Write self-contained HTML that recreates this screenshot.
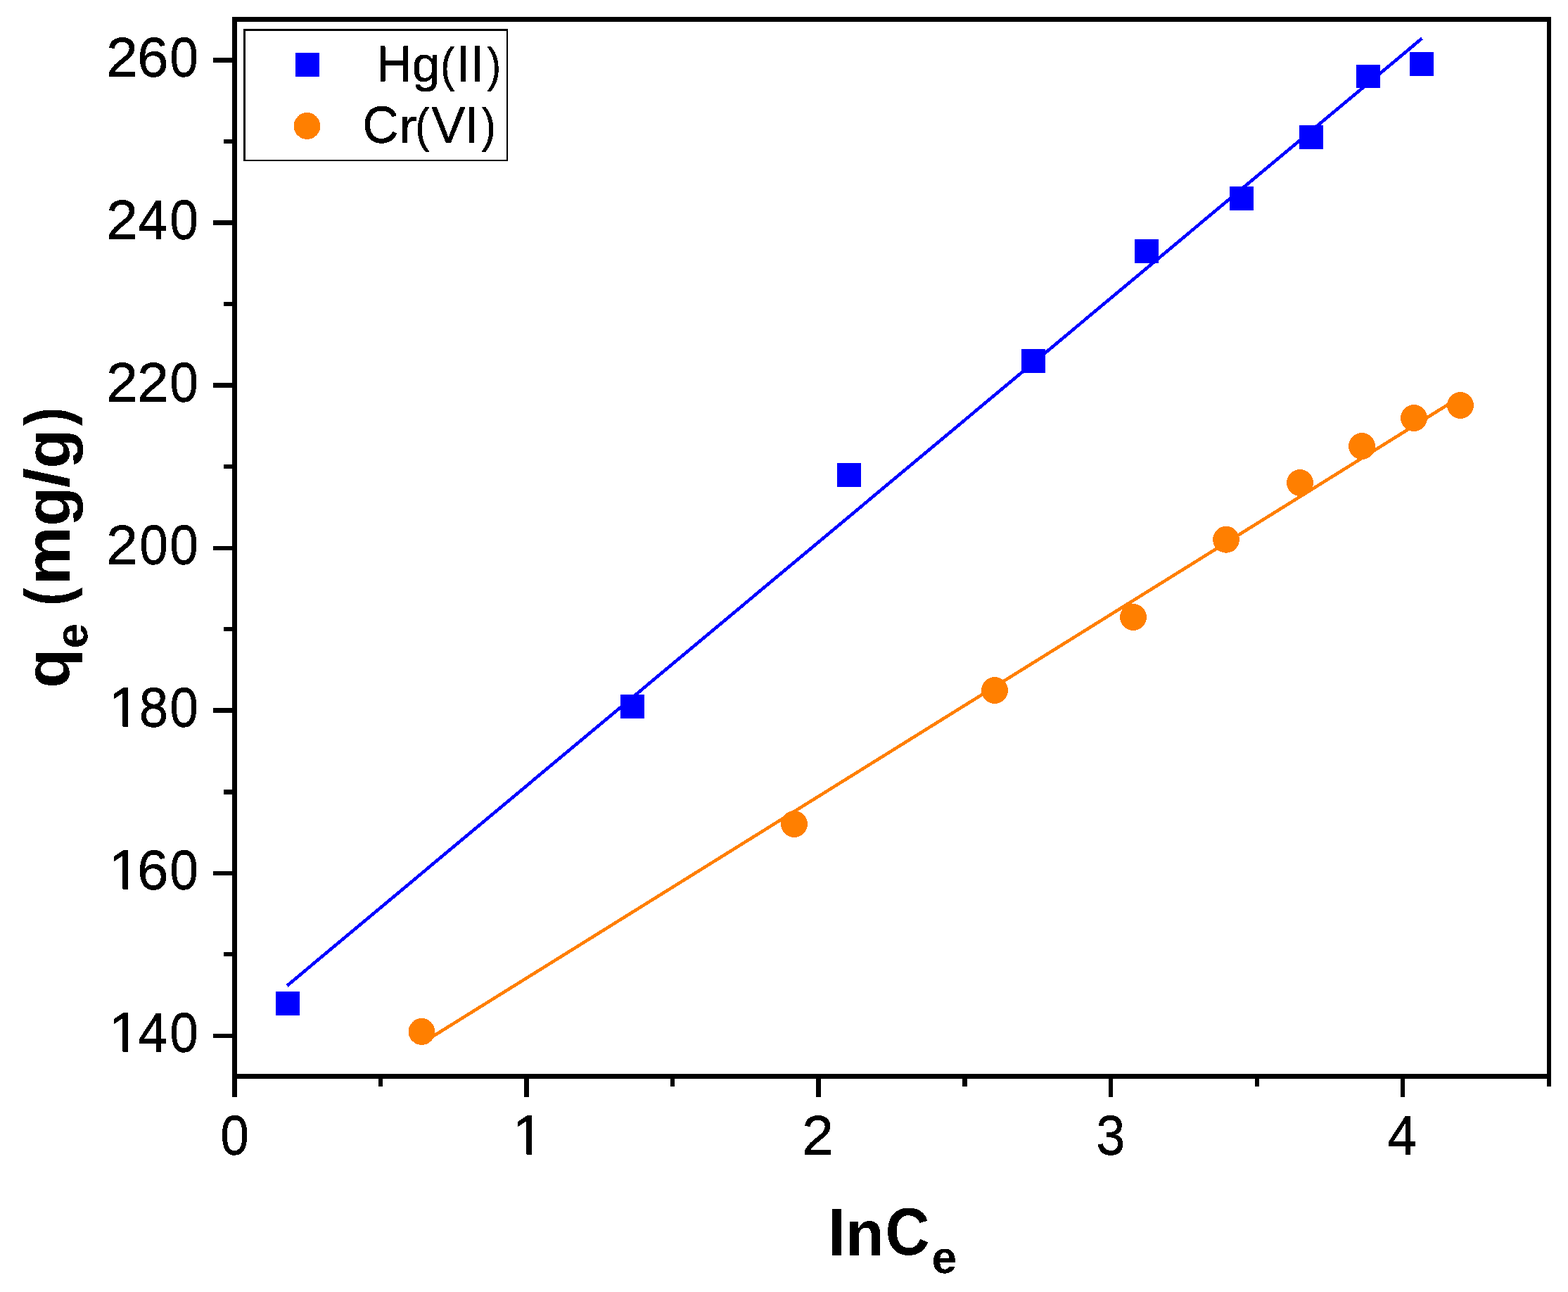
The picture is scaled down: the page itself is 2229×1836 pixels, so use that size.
<!DOCTYPE html>
<html lang="en">
<head>
<meta charset="utf-8">
<title>qe vs lnCe</title>
<style>
html,body{margin:0;padding:0;background:#ffffff;}
body{width:2229px;height:1836px;overflow:hidden;}
svg{display:block;}
</style>
</head>
<body>
<svg width="2229" height="1836" viewBox="0 0 2229 1836">
<rect x="0" y="0" width="2229" height="1836" fill="#ffffff"/>
<defs><filter id="bin" filterUnits="userSpaceOnUse" x="0" y="0" width="2229" height="1836" color-interpolation-filters="sRGB"><feComponentTransfer><feFuncA type="discrete" tableValues="0 1"/></feComponentTransfer></filter><filter id="binv" filterUnits="userSpaceOnUse" x="0" y="0" width="2229" height="1836" color-interpolation-filters="sRGB"><feOffset in="SourceGraphic" dy="1" result="o"/><feMerge result="m"><feMergeNode in="SourceGraphic"/><feMergeNode in="o"/></feMerge><feComponentTransfer in="m"><feFuncA type="discrete" tableValues="0 1"/></feComponentTransfer></filter></defs>
<g fill="none" stroke-linecap="butt" shape-rendering="crispEdges">
<line x1="408" y1="1400.8" x2="2021.5" y2="54.5" stroke="#0000ff" stroke-width="4.6"/>
<line x1="600" y1="1482.3" x2="2076" y2="564" stroke="#ff7f00" stroke-width="4.6"/>
</g>
<g fill="#0000ff" shape-rendering="crispEdges">
<rect x="392" y="1409" width="34" height="34"/>
<rect x="882" y="987" width="34" height="34"/>
<rect x="1190" y="658" width="34" height="34"/>
<rect x="1452" y="496" width="34" height="34"/>
<rect x="1613" y="340" width="34" height="34"/>
<rect x="1748" y="265" width="34" height="34"/>
<rect x="1847" y="178" width="34" height="34"/>
<rect x="1928" y="92" width="34" height="33"/>
<rect x="2004" y="74" width="34" height="34"/>
</g>
<g fill="#ff7f00" filter="url(#bin)">
<circle cx="599.5" cy="1466" r="18.9"/>
<circle cx="1129" cy="1171" r="18.9"/>
<circle cx="1414" cy="981" r="18.9"/>
<circle cx="1611" cy="877" r="18.9"/>
<circle cx="1743" cy="766.8" r="18.9"/>
<circle cx="1848" cy="686" r="18.9"/>
<circle cx="1936" cy="634" r="18.9"/>
<circle cx="2010" cy="594" r="18.9"/>
<circle cx="2076" cy="576" r="18.9"/>
</g>
<g fill="#000000" shape-rendering="crispEdges">
<rect x="330" y="24" width="7" height="1535"/>
<rect x="330" y="24" width="1875" height="7"/>
<rect x="2199" y="24" width="6" height="1520"/>
<rect x="330" y="1526" width="1875" height="7"/>
<rect x="303" y="82" width="28" height="7"/>
<rect x="318" y="198" width="13" height="6"/>
<rect x="303" y="313" width="28" height="7"/>
<rect x="318" y="429" width="13" height="6"/>
<rect x="303" y="544" width="28" height="7"/>
<rect x="318" y="660" width="13" height="6"/>
<rect x="303" y="776" width="28" height="6"/>
<rect x="318" y="891" width="13" height="6"/>
<rect x="303" y="1006" width="28" height="7"/>
<rect x="318" y="1122" width="13" height="7"/>
<rect x="303" y="1238" width="28" height="6"/>
<rect x="318" y="1353" width="13" height="6"/>
<rect x="303" y="1469" width="28" height="6"/>
<rect x="538" y="1530" width="6" height="14"/>
<rect x="745" y="1530" width="7" height="29"/>
<rect x="953" y="1530" width="6" height="14"/>
<rect x="1160" y="1530" width="7" height="29"/>
<rect x="1368" y="1530" width="7" height="14"/>
<rect x="1576" y="1530" width="6" height="29"/>
<rect x="1784" y="1530" width="6" height="14"/>
<rect x="1991" y="1530" width="6" height="29"/>
</g>
<g fill="#000000" shape-rendering="crispEdges"><rect x="346" y="41" width="376" height="3"/><rect x="346" y="41" width="3" height="188"/><rect x="720" y="41" width="2" height="188"/><rect x="346" y="227" width="376" height="2"/></g>
<rect x="420" y="75" width="34" height="34" fill="#0000ff" shape-rendering="crispEdges"/>
<circle cx="436.5" cy="179" r="18.9" fill="#ff7f00" filter="url(#bin)"/>
<g font-family="'Liberation Sans', Arial, Helvetica, sans-serif" fill="#000000" text-rendering="geometricPrecision" filter="url(#binv)">
<text><tspan x="535.04" y="114.90" font-size="72.24" textLength="50.68" lengthAdjust="spacingAndGlyphs">H</tspan><tspan x="585.88" y="115.37" font-size="70.01" textLength="39.95" lengthAdjust="spacingAndGlyphs">g</tspan><tspan x="626.01" y="114.51" font-size="68.05" textLength="20.35" lengthAdjust="spacingAndGlyphs">(</tspan><tspan x="648.27" y="114.90" font-size="72.24" textLength="20.56" lengthAdjust="spacingAndGlyphs">I</tspan><tspan x="668.17" y="114.90" font-size="72.24" textLength="20.56" lengthAdjust="spacingAndGlyphs">I</tspan><tspan x="692.55" y="114.51" font-size="68.05" textLength="19.84" lengthAdjust="spacingAndGlyphs">)</tspan></text>
<text><tspan x="515.29" y="202.28" font-size="73.30" textLength="51.31" lengthAdjust="spacingAndGlyphs">C</tspan><tspan x="566.56" y="202.10" font-size="68.02" textLength="26.77" lengthAdjust="spacingAndGlyphs">r</tspan><tspan x="590.21" y="201.44" font-size="68.37" textLength="20.35" lengthAdjust="spacingAndGlyphs">(</tspan><tspan x="613.18" y="202.10" font-size="72.97" textLength="48.44" lengthAdjust="spacingAndGlyphs">V</tspan><tspan x="660.17" y="202.10" font-size="72.97" textLength="20.56" lengthAdjust="spacingAndGlyphs">I</tspan><tspan x="684.54" y="201.44" font-size="68.37" textLength="20.35" lengthAdjust="spacingAndGlyphs">)</tspan></text>
<text><tspan x="150.92" y="108.00" font-size="78.77" textLength="45.17" lengthAdjust="spacingAndGlyphs">2</tspan><tspan x="194.93" y="108.23" font-size="79.10" textLength="44.60" lengthAdjust="spacingAndGlyphs">6</tspan><tspan x="241.14" y="108.23" font-size="79.10" textLength="40.72" lengthAdjust="spacingAndGlyphs">0</tspan></text>
<text><tspan x="150.92" y="339.00" font-size="78.77" textLength="45.17" lengthAdjust="spacingAndGlyphs">2</tspan><tspan x="196.27" y="339.00" font-size="78.49" textLength="41.94" lengthAdjust="spacingAndGlyphs">4</tspan><tspan x="241.14" y="339.23" font-size="79.10" textLength="40.72" lengthAdjust="spacingAndGlyphs">0</tspan></text>
<text><tspan x="150.92" y="570.00" font-size="78.77" textLength="45.17" lengthAdjust="spacingAndGlyphs">2</tspan><tspan x="194.92" y="570.00" font-size="78.77" textLength="45.17" lengthAdjust="spacingAndGlyphs">2</tspan><tspan x="241.14" y="570.23" font-size="79.10" textLength="40.72" lengthAdjust="spacingAndGlyphs">0</tspan></text>
<text><tspan x="150.92" y="801.00" font-size="78.77" textLength="45.17" lengthAdjust="spacingAndGlyphs">2</tspan><tspan x="198.14" y="801.23" font-size="79.10" textLength="40.72" lengthAdjust="spacingAndGlyphs">0</tspan><tspan x="241.14" y="801.23" font-size="79.10" textLength="40.72" lengthAdjust="spacingAndGlyphs">0</tspan></text>
<clipPath id="c1"><rect x="154.00" y="971.00" width="42.75" height="54.73"/><rect x="174.60" y="1024.73" width="7.55" height="11.27"/><rect x="196.75" y="971.00" width="140" height="69.00"/></clipPath>
<text clip-path="url(#c1)"><tspan x="154.10" y="1032.00" font-size="79.94" textLength="45.65" lengthAdjust="spacingAndGlyphs">1</tspan><tspan x="197.76" y="1032.23" font-size="79.10" textLength="41.48" lengthAdjust="spacingAndGlyphs">8</tspan><tspan x="241.14" y="1032.23" font-size="79.10" textLength="40.72" lengthAdjust="spacingAndGlyphs">0</tspan></text>
<clipPath id="c2"><rect x="154.00" y="1202.00" width="42.75" height="54.73"/><rect x="174.60" y="1255.73" width="7.55" height="11.27"/><rect x="196.75" y="1202.00" width="140" height="69.00"/></clipPath>
<text clip-path="url(#c2)"><tspan x="154.10" y="1263.00" font-size="79.94" textLength="45.65" lengthAdjust="spacingAndGlyphs">1</tspan><tspan x="194.93" y="1263.23" font-size="79.10" textLength="44.60" lengthAdjust="spacingAndGlyphs">6</tspan><tspan x="241.14" y="1263.23" font-size="79.10" textLength="40.72" lengthAdjust="spacingAndGlyphs">0</tspan></text>
<clipPath id="c3"><rect x="154.00" y="1433.00" width="42.75" height="54.73"/><rect x="174.60" y="1486.73" width="7.55" height="11.27"/><rect x="196.75" y="1433.00" width="140" height="69.00"/></clipPath>
<text clip-path="url(#c3)"><tspan x="154.10" y="1494.00" font-size="79.94" textLength="45.65" lengthAdjust="spacingAndGlyphs">1</tspan><tspan x="196.27" y="1494.00" font-size="78.49" textLength="41.94" lengthAdjust="spacingAndGlyphs">4</tspan><tspan x="241.14" y="1494.23" font-size="79.10" textLength="40.72" lengthAdjust="spacingAndGlyphs">0</tspan></text>
<text><tspan x="313.14" y="1640.23" font-size="79.10" textLength="40.72" lengthAdjust="spacingAndGlyphs">0</tspan></text>
<clipPath id="c4"><rect x="728.00" y="1579.00" width="42.75" height="54.73"/><rect x="748.60" y="1632.73" width="7.55" height="11.27"/><rect x="770.75" y="1579.00" width="140" height="69.00"/></clipPath>
<text clip-path="url(#c4)"><tspan x="728.10" y="1640.00" font-size="79.94" textLength="45.65" lengthAdjust="spacingAndGlyphs">1</tspan></text>
<text><tspan x="1139.92" y="1640.00" font-size="78.77" textLength="45.17" lengthAdjust="spacingAndGlyphs">2</tspan></text>
<text><tspan x="1558.19" y="1640.23" font-size="79.10" textLength="41.06" lengthAdjust="spacingAndGlyphs">3</tspan></text>
<text><tspan x="1972.27" y="1640.00" font-size="78.49" textLength="41.94" lengthAdjust="spacingAndGlyphs">4</tspan></text>
</g>
<g font-family="'Liberation Sans', Arial, Helvetica, sans-serif" fill="#000000" text-rendering="geometricPrecision" filter="url(#bin)">
<text font-weight="bold"><tspan x="1176.38" y="1784.00" font-size="91.08" textLength="26.32" lengthAdjust="spacingAndGlyphs">l</tspan><tspan x="1202.13" y="1784.00" font-size="90.98" textLength="54.39" lengthAdjust="spacingAndGlyphs">n</tspan><tspan x="1258.42" y="1783.27" font-size="95.20" textLength="62.96" lengthAdjust="spacingAndGlyphs">C</tspan><tspan x="1324.49" y="1809.37" font-size="64.07" textLength="35.70" lengthAdjust="spacingAndGlyphs">e</tspan></text>
<text font-weight="bold" transform="rotate(-90)" xml:space="preserve"><tspan x="-977.75" y="98.36" font-size="89.80" textLength="55.87" lengthAdjust="spacingAndGlyphs">q</tspan><tspan x="-921.51" y="124.38" font-size="63.89" textLength="35.70" lengthAdjust="spacingAndGlyphs">e</tspan><tspan> </tspan><tspan x="-860.88" y="98.30" font-size="90.12" textLength="25.96" lengthAdjust="spacingAndGlyphs">(</tspan><tspan x="-831.15" y="99.00" font-size="90.98" textLength="82.93" lengthAdjust="spacingAndGlyphs">m</tspan><tspan x="-747.75" y="98.80" font-size="90.61" textLength="55.87" lengthAdjust="spacingAndGlyphs">g</tspan><tspan x="-692.98" y="97.23" font-size="88.63" textLength="27.97" lengthAdjust="spacingAndGlyphs">/</tspan><tspan x="-665.75" y="98.80" font-size="90.61" textLength="55.87" lengthAdjust="spacingAndGlyphs">g</tspan><tspan x="-605.08" y="98.30" font-size="90.12" textLength="26.43" lengthAdjust="spacingAndGlyphs">)</tspan></text>
</g>
</svg>
</body>
</html>
